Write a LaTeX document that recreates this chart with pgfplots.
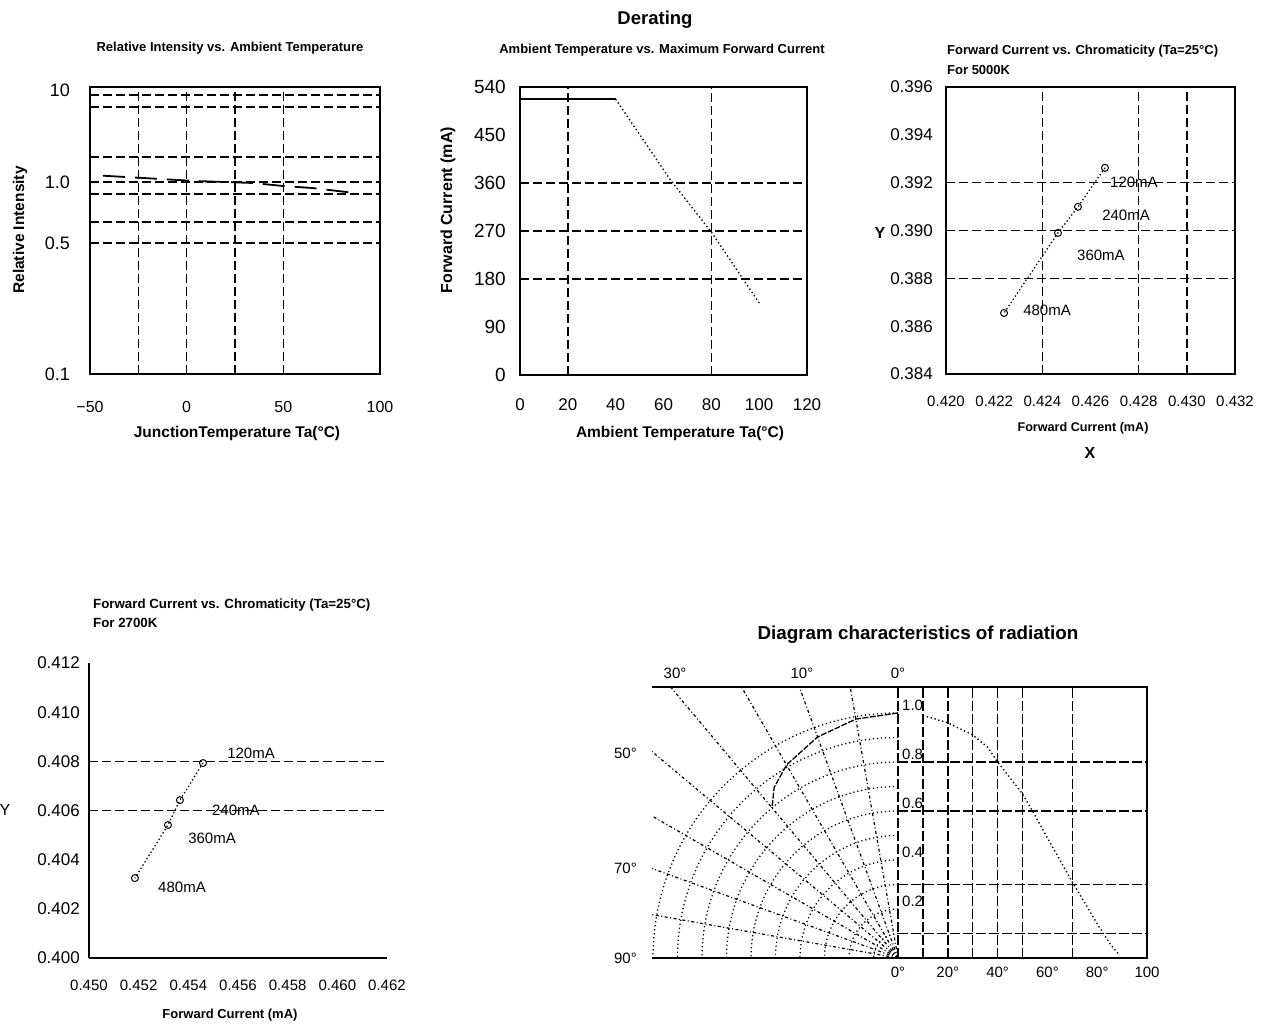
\documentclass[border=0pt]{standalone}
\usepackage{fontspec}
\setmainfont{Liberation Sans}
\usepackage{pgfplots}
\usepackage{pgfplotstable}
\pgfplotsset{compat=1.18}
\newcommand\fs[1]{\fontsize{#1pt}{#1pt}\selectfont}

% radiation pattern: angle (deg), relative intensity
\pgfplotstableread{
a I
0 1.00
10 0.99
20 0.96
30 0.91
36 0.86
40 0.80
50 0.67
54 0.60
60 0.49
70 0.31
80 0.14
85 0.06
89 0.01
}\radtable

\pgfplotsset{
 P/.style={scale only axis, anchor=south west,
  axis line style={line width=2pt},
  tick style={draw=none}, major tick length=0pt, minor tick length=0pt,
  major grid style={black, line width=1.5pt, dash pattern=on 9pt off 4pt},
  extra tick style={grid=major},
  scaled ticks=false,
  /pgf/number format/assume math mode=true,
 },
}

\begin{document}
\begin{tikzpicture}[x=1pt,y=1pt]
\path[use as bounding box] (0pt,0pt) rectangle (1265pt,1028pt);

% ---------- Panel 1 ----------
\begin{axis}[P, at={(90pt,654pt)}, width=290pt, height=287pt,
 xmin=-50, xmax=100, ymin=0, ymax=287,
 xtick={-50,0,50,100}, xticklabels={−50,0,50,100},
 ytick={0,131,192,284}, yticklabels={0.1,0.5,1.0,10},
 extra x ticks={-25,0,25,50}, extra x tick labels={},
 extra y ticks={131,152,180,192,217,267,279}, extra y tick labels={},
 xticklabel style={font=\fs{16}, anchor=center, yshift=-33pt, inner sep=0pt},
 yticklabel style={font=\fs{18}, anchor=east, xshift=-20pt, inner sep=0pt},
]
\addplot[black, line width=1.8pt, dash pattern=on 22pt off 10pt] coordinates {(-43.3,198.3) (-22.6,196) (4.3,193) (34.3,191) (49.8,188) (64.8,186) (87,181)};
\end{axis}
\node[font=\bfseries\fs{13}] at (230pt,980pt) {Relative Intensity vs. Ambient Temperature};
\node[font=\bfseries\fs{15.5}, rotate=90] at (20pt,798pt) {Relative Intensity};
\node[font=\bfseries\fs{15.5}] at (237pt,595pt) {JunctionTemperature Ta(°C)};

% ---------- Panel 2 ----------
\begin{axis}[P, at={(520pt,653pt)}, width=287pt, height=288pt,
 xmin=0, xmax=120, ymin=0, ymax=540,
 xtick={0,20,40,60,80,100,120}, ytick={0,90,180,270,360,450,540},
 extra x ticks={20,80}, extra x tick labels={},
 extra y ticks={180,270,360}, extra y tick labels={},
 xticklabel style={font=\fs{17}, anchor=center, yshift=-30pt, inner sep=0pt},
 yticklabel style={font=\fs{19}, anchor=east, xshift=-14pt, inner sep=0pt},
]
\addplot[black, line width=2pt] coordinates {(0,517) (40,517)};
\addplot[black, line width=1.4pt, dash pattern=on 1.3pt off 2.7pt] coordinates {(40,517) (63,365) (80,268) (100,135)};
\end{axis}
\node[font=\bfseries\fs{18.5}] at (655pt,1008pt) {Derating};
\node[font=\bfseries\fs{13}] at (662pt,978pt) {Ambient Temperature vs. Maximum Forward Current};
\node[font=\bfseries\fs{16}, rotate=90] at (448pt,818pt) {Forward Current (mA)};
\node[font=\bfseries\fs{15.5}] at (680pt,595pt) {Ambient Temperature Ta(°C)};

% ---------- Panel 3 ----------
\begin{axis}[P, at={(946pt,654pt)}, width=289pt, height=287pt,
 xmin=0.420, xmax=0.432, ymin=0.384, ymax=0.396,
 xtick={0.420,0.422,0.424,0.426,0.428,0.430,0.432},
 xticklabels={0.420,0.422,0.424,0.426,0.428,0.430,0.432},
 ytick={0.384,0.386,0.388,0.390,0.392,0.394,0.396},
 yticklabels={0.384,0.386,0.388,0.390,0.392,0.394,0.396},
 extra x ticks={0.424,0.428,0.430}, extra x tick labels={},
 extra y ticks={0.388,0.390,0.392}, extra y tick labels={},
 xticklabel style={font=\fs{15}, anchor=center, yshift=-27pt, inner sep=0pt},
 yticklabel style={font=\fs{17}, anchor=east, xshift=-13pt, inner sep=0pt},
]
\addplot[black, line width=1.3pt, dash pattern=on 1.3pt off 2.5pt, mark=o, mark size=3.5pt, mark options={solid, line width=1pt}]
 coordinates {(0.4266,0.39262) (0.42548,0.39099) (0.42465,0.3899) (0.42241,0.38655)};
\node[font=\fs{15}, anchor=west, inner sep=0pt] at (axis cs:0.42681,0.39203) {120mA};
\node[font=\fs{15}, anchor=west, inner sep=0pt] at (axis cs:0.42648,0.39065) {240mA};
\node[font=\fs{15}, anchor=west, inner sep=0pt] at (axis cs:0.42544,0.38898) {360mA};
\node[font=\fs{15}, anchor=west, inner sep=0pt] at (axis cs:0.42320,0.38668) {480mA};
\end{axis}
\node[font=\bfseries\fs{13}, anchor=west, inner sep=0pt] at (947pt,977pt) {Forward Current vs. Chromaticity (Ta=25°C)};
\node[font=\bfseries\fs{13}, anchor=west, inner sep=0pt] at (947pt,958pt) {For 5000K};
\node[font=\bfseries\fs{12.6}] at (1083pt,600pt) {Forward Current (mA)};
\node[font=\bfseries\fs{16}] at (1090pt,575pt) {X};
\node[font=\bfseries\fs{16}] at (880pt,795pt) {Y};

% ---------- Panel 4 ----------
\begin{axis}[P, at={(89pt,70pt)}, width=298pt, height=295pt,
 axis x line=bottom, axis y line=left, axis line style={-, line width=2pt},
 xmin=0.450, xmax=0.462, ymin=0.400, ymax=0.412,
 xtick={0.450,0.452,0.454,0.456,0.458,0.460,0.462},
 xticklabels={0.450,0.452,0.454,0.456,0.458,0.460,0.462},
 ytick={0.400,0.402,0.404,0.406,0.408,0.410,0.412},
 yticklabels={0.400,0.402,0.404,0.406,0.408,0.410,0.412},
 extra y ticks={0.406,0.408}, extra y tick labels={},
 xticklabel style={font=\fs{15}, anchor=center, yshift=-27pt, inner sep=0pt},
 yticklabel style={font=\fs{17}, anchor=east, xshift=-9pt, inner sep=0pt},
]
\addplot[black, line width=1.3pt, dash pattern=on 1.3pt off 2.5pt, mark=o, mark size=3.5pt, mark options={solid, line width=1pt}]
 coordinates {(0.45459,0.40793) (0.45366,0.40642) (0.45318,0.40541) (0.45185,0.40325)};
\node[font=\fs{15}, anchor=west, inner sep=0pt] at (axis cs:0.45556,0.40834) {120mA};
\node[font=\fs{15}, anchor=west, inner sep=0pt] at (axis cs:0.45495,0.40602) {240mA};
\node[font=\fs{15}, anchor=west, inner sep=0pt] at (axis cs:0.45399,0.40488) {360mA};
\node[font=\fs{15}, anchor=west, inner sep=0pt] at (axis cs:0.45278,0.40289) {480mA};
\end{axis}
\node[font=\bfseries\fs{13.3}, anchor=west, inner sep=0pt] at (93pt,423pt) {Forward Current vs. Chromaticity (Ta=25°C)};
\node[font=\bfseries\fs{13.3}, anchor=west, inner sep=0pt] at (93pt,405pt) {For 2700K};
\node[font=\bfseries\fs{13}] at (230pt,13pt) {Forward Current (mA)};
\node[font=\fs{16}] at (5pt,218pt) {Y};

% ---------- Panel 5 (polar part) ----------
\begin{axis}[P, at={(652pt,70pt)}, width=246pt, height=271pt,
 xmin=-1.004, xmax=0, ymin=0, ymax=1.106, clip=true,
 axis line style={draw=none},
 xtick={-0.91,-0.392,0}, xticklabels={30°,10°,0°}, xticklabel pos=right,
 xticklabel style={font=\fs{15}, anchor=center, yshift=14pt, inner sep=0pt},
 ytick={0,0.367,0.837}, yticklabels={90°,70°,50°},
 yticklabel style={font=\fs{15}, anchor=east, xshift=-15pt, inner sep=0pt},
]
\pgfplotsinvokeforeach{0.1,0.2,0.3,0.4,0.5,0.6,0.7,0.8,0.9,1.0}{
 \draw[black, line width=1.3pt, dash pattern=on 1.2pt off 2.8pt] (axis cs:0,#1) arc[start angle=90, end angle=180, radius=#1*245pt];
}
\pgfplotsinvokeforeach{10,20,30,40,50,60,70,80}{
 \draw[black, line width=1.2pt, dash pattern=on 3pt off 2.5pt on 1pt off 2.5pt] (axis cs:0,0) -- (axis cs:{-1.5*sin(#1)},{1.5*cos(#1)});
}
\addplot[black, line width=1.3pt, dash pattern=on 6pt off 1.5pt] table[x expr={-\thisrow{I}*sin(\thisrow{a})}, y expr={\thisrow{I}*cos(\thisrow{a})}, skip coords between index={6}{13}] {\radtable};
\end{axis}

% ---------- Panel 5 (cartesian part) ----------
\begin{axis}[P, at={(898pt,70pt)}, width=249pt, height=271pt,
 xmin=0, xmax=100, ymin=0, ymax=1.106,
 axis line style={draw=none},
 xtick={0,20,40,60,80,100}, xticklabels={0°,20°,40°,60°,80°,100},
 xticklabel style={font=\fs{15}, anchor=center, yshift=-14pt, inner sep=0pt},
 ytick={0.2,0.4,0.6,0.8,1.0}, yticklabels={0.2,0.4,0.6,0.8,1.0},
 yticklabel style={font=\fs{15}, anchor=west, xshift=4pt, yshift=8pt, inner sep=0pt},
 extra x ticks={0,10,20,30,40,50,70}, extra x tick labels={},
 extra y ticks={0.1,0.3,0.6,0.8}, extra y tick labels={},
 major grid style={black, line width=1.5pt, dash pattern=on 10pt off 3pt},
]
\addplot[black, line width=1.4pt, dash pattern=on 1.3pt off 2.7pt] table[x=a, y=I, skip coords between index={0}{1}] {\radtable};
\end{axis}
\draw[line width=2pt] (652pt,341pt) -- (1147pt,341pt) -- (1147pt,70pt) -- (652pt,70pt);
\node[font=\bfseries\fs{18.8}] at (918pt,393pt) {Diagram characteristics of radiation};

\end{tikzpicture}
\end{document}
